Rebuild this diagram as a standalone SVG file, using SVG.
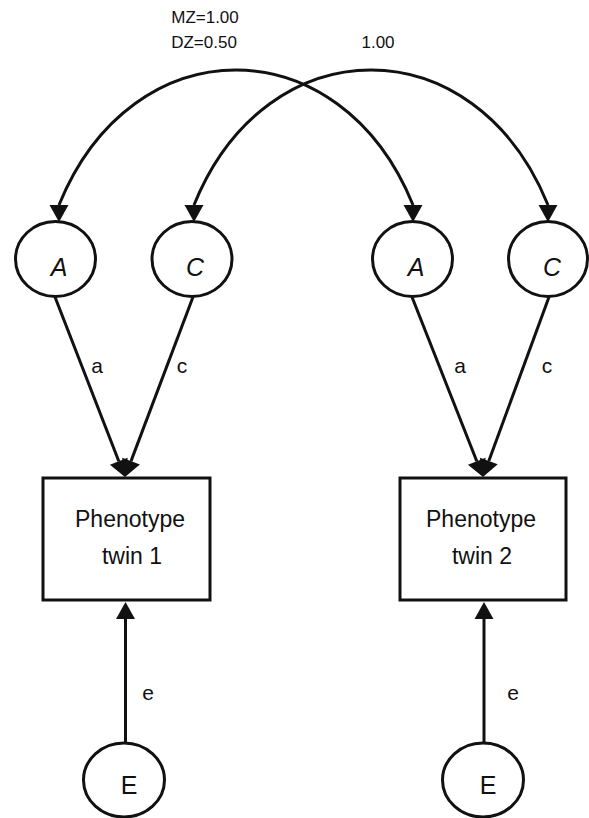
<svg xmlns="http://www.w3.org/2000/svg" width="589" height="818" viewBox="0 0 589 818">
  <style>
    .node { fill: #ffffff; stroke: #111111; stroke-width: 3; }
    .conn { fill: none; stroke: #111111; stroke-width: 3; }
    .lbl { font-family: "Liberation Sans", Arial, sans-serif; fill: #111111; text-anchor: middle; }
    .var { font-size: 25px; font-style: italic; }
    .path { font-size: 21px; }
    .box { font-size: 23px; }
    .cov { font-size: 17px; }
  </style>
  <defs>
    <marker id="headDown" markerUnits="userSpaceOnUse" markerWidth="18" markerHeight="20" refX="0" refY="9.5" orient="90" viewBox="0 0 18 19" overflow="visible">
      <path d="M0,0 L17,9.5 L0,19 Z" fill="#111111"/>
    </marker>
    <marker id="head" markerUnits="userSpaceOnUse" markerWidth="18" markerHeight="20" refX="0" refY="9.5" orient="auto" viewBox="0 0 18 19" overflow="visible">
      <path d="M0,0 L17,9.5 L0,19 Z" fill="#111111"/>
    </marker>
  </defs>
  <rect width="589" height="818" fill="#ffffff"/>

  <g id="connectors">
    <path class="conn" d="M59,205 C132,25 340,25 413,205" marker-start="url(#headDown)" marker-end="url(#headDown)"/>
    <path class="conn" d="M194,205 C267,25 475,25 548,205" marker-start="url(#headDown)" marker-end="url(#headDown)"/>
    <line class="conn" x1="55" y1="297" x2="118.8" y2="461.2" marker-end="url(#head)"/>
    <line class="conn" x1="193" y1="297" x2="131" y2="461.1" marker-end="url(#head)"/>
    <line class="conn" x1="412" y1="297" x2="476.8" y2="461.2" marker-end="url(#head)"/>
    <line class="conn" x1="549" y1="297" x2="488.8" y2="461" marker-end="url(#head)"/>
    <line class="conn" x1="125.5" y1="743" x2="125.5" y2="619" marker-end="url(#head)"/>
    <line class="conn" x1="484" y1="743" x2="484" y2="619" marker-end="url(#head)"/>
    <text class="lbl cov" x="205" y="23">MZ=1.00</text>
    <text class="lbl cov" x="204" y="48">DZ=0.50</text>
    <text class="lbl cov" x="378" y="48">1.00</text>
    <text class="lbl path" x="97" y="373">a</text>
    <text class="lbl path" x="182" y="373">c</text>
    <text class="lbl path" x="460" y="373">a</text>
    <text class="lbl path" x="547" y="373">c</text>
    <text class="lbl path" x="148" y="700">e</text>
    <text class="lbl path" x="513" y="700">e</text>
  </g>

  <g id="A1">
    <ellipse class="node" cx="55.5" cy="259" rx="40" ry="37.5"/>
    <text class="lbl var" x="59" y="276">A</text>
  </g>
  <g id="C1">
    <ellipse class="node" cx="192" cy="259" rx="40" ry="37.5"/>
    <text class="lbl var" x="195" y="276">C</text>
  </g>
  <g id="A2">
    <ellipse class="node" cx="412.5" cy="259" rx="40" ry="37.5"/>
    <text class="lbl var" x="416" y="276">A</text>
  </g>
  <g id="C2">
    <ellipse class="node" cx="548" cy="259" rx="39.5" ry="37.5"/>
    <text class="lbl var" x="552" y="276">C</text>
  </g>
  <g id="P1">
    <rect class="node" x="43" y="478" width="167" height="122"/>
    <text class="lbl box" x="130" y="527">Phenotype</text>
    <text class="lbl box" x="132" y="564">twin 1</text>
  </g>
  <g id="P2">
    <rect class="node" x="400" y="478" width="166" height="122"/>
    <text class="lbl box" x="481" y="527">Phenotype</text>
    <text class="lbl box" x="482" y="564">twin 2</text>
  </g>
  <g id="E1">
    <ellipse class="node" cx="124" cy="780" rx="40.5" ry="37"/>
    <text class="lbl var" x="129" y="794" style="font-style:normal">E</text>
  </g>
  <g id="E2">
    <ellipse class="node" cx="483" cy="780" rx="40.5" ry="37"/>
    <text class="lbl var" x="488" y="794" style="font-style:normal">E</text>
  </g>
</svg>
